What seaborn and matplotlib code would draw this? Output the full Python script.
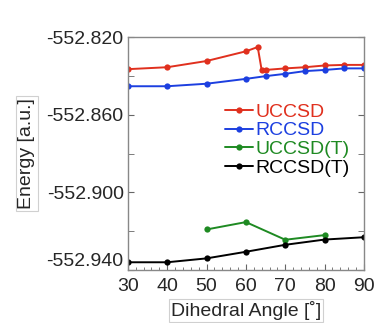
import numpy as np
import pandas as pd
import seaborn as sns
import matplotlib.pyplot as plt
from matplotlib.ticker import FixedLocator, MultipleLocator, FormatStrFormatter

# === Data ===
uccsd_angle = [30, 40, 50, 60, 63, 64, 65, 70, 75, 80, 85, 90]
uccsd_energy = [-552.8365, -552.8355, -552.8323, -552.8273, -552.8251, -552.8369,
                -552.8369, -552.8361, -552.8355, -552.8346, -552.8343, -552.8343]

rccsd_angle = [30, 40, 50, 60, 65, 70, 75, 80, 85, 90]
rccsd_energy = [-552.8453, -552.8453, -552.8440, -552.8415, -552.8401, -552.8389,
                -552.8375, -552.8369, -552.8361, -552.8361]

uccsdt_angle = [50, 60, 70, 80]
uccsdt_energy = [-552.9191, -552.9153, -552.9244, -552.9220]

rccsdt_angle = [30, 40, 50, 60, 70, 80, 90]
rccsdt_energy = [-552.9360, -552.9360, -552.9340, -552.9306, -552.9270, -552.9243, -552.9231]

series_names = ["UCCSD", "RCCSD", "UCCSD(T)", "RCCSD(T)"]
series_colors = ["#e0301e", "#1c3fe0", "#1e8a22", "#000000"]

y_major = [-552.940, -552.900, -552.860, -552.820]
y_minor = [-552.920, -552.880, -552.840]

frames = []
for name, a, e in zip(series_names,
                      [uccsd_angle, rccsd_angle, uccsdt_angle, rccsdt_angle],
                      [uccsd_energy, rccsd_energy, uccsdt_energy, rccsdt_energy]):
    frames.append(pd.DataFrame({"angle": a, "energy": e, "method": name}))
df = pd.concat(frames, ignore_index=True)

# === Style ===
sns.set_style("ticks")
plt.rcParams['font.family'] = ['Liberation Sans', 'DejaVu Sans']

fig = plt.figure(figsize=(3.76, 3.23), dpi=100)
ax = fig.add_axes([0.340, 0.164, 0.628, 0.721])

sns.lineplot(data=df, x="angle", y="energy", hue="method", hue_order=series_names,
             palette=series_colors, marker="o", markersize=4.5, markeredgewidth=0,
             linewidth=1.4, sort=False, estimator=None, ax=ax)

ax.set_xlim(30, 90)
ax.set_ylim(-552.940, -552.820)
ax.xaxis.set_major_locator(MultipleLocator(10))
ax.xaxis.set_minor_locator(MultipleLocator(2))
ax.yaxis.set_major_locator(FixedLocator(y_major))
ax.yaxis.set_minor_locator(FixedLocator(y_minor))
ax.yaxis.set_major_formatter(FormatStrFormatter('%.3f'))

for s in ax.spines.values():
    s.set_color("#888888")
    s.set_linewidth(1.0)
ax.tick_params(which="both", direction="in", color="#666666", labelsize=14,
               right=True, top=False)
ax.tick_params(which="major", length=4, pad=3)
ax.tick_params(which="minor", length=2.5)
ax.tick_params(axis="y", which="minor", length=4)
ax.tick_params(axis="x", which="major", pad=6)
# lowest y label sits just above the bottom spine so it clears the "30"
ax.get_yticklabels()[0].set_verticalalignment("bottom")

box = dict(facecolor="none", edgecolor="#d0d0d0", linewidth=0.8, pad=1.5)
ax.set_xlabel("Dihedral Angle [˚]", fontsize=14, labelpad=4, bbox=box)
ax.set_ylabel("Energy [a.u.]", fontsize=14, labelpad=8, bbox=box)

leg = ax.legend(loc="upper left", bbox_to_anchor=(0.38, 0.75), frameon=False,
                fontsize=14, handlelength=1.4, handletextpad=0.15,
                labelspacing=0.05, borderaxespad=0)
for txt, c in zip(leg.get_texts(), series_colors):
    txt.set_color(c)

fig.savefig("out.png", dpi=100)
